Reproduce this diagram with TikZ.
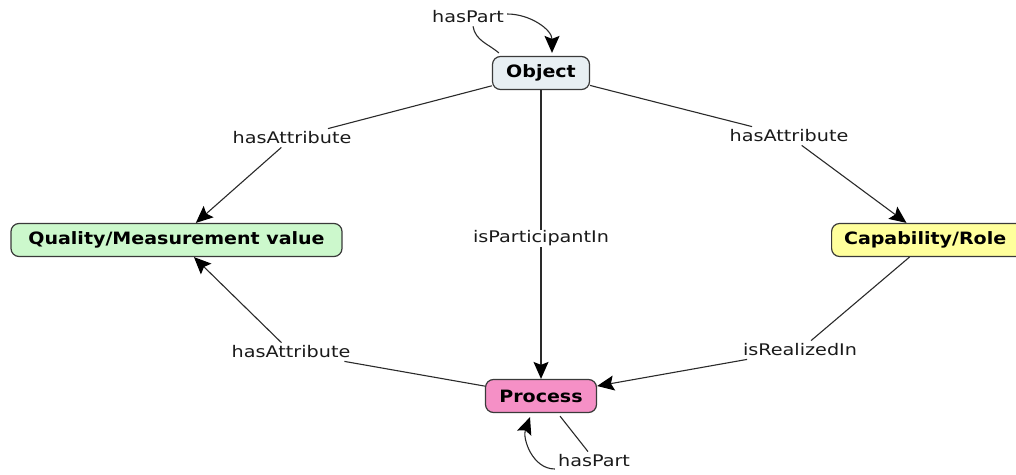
\documentclass[tikz,border=0pt]{standalone}
\usepackage{fontspec}
\setmainfont{DejaVu Sans}
\newfontfamily\linkfont{DejaVu Sans}[FakeStretch=1.2]
\newfontfamily\conceptfont{DejaVu Sans}[FakeStretch=1.12]
\usetikzlibrary{arrows.meta}

\definecolor{objfill}{HTML}{E8EFF3}
\definecolor{qualfill}{HTML}{CCF8CC}
\definecolor{capfill}{HTML}{FFFF9C}
\definecolor{procfill}{HTML}{F590C6}
\definecolor{edgegray}{HTML}{2A2A2A}
\definecolor{boxline}{HTML}{3A3A3A}
\definecolor{ink}{HTML}{1A1A1A}

\tikzset{
  concept/.style={draw=boxline, line width=1.2pt, rounded corners=8pt,
    minimum height=33pt, inner xsep=12pt,
    font=\conceptfont\bfseries\fontsize{17}{20}\selectfont, text=black},
  linklabel/.style={font=\linkfont\fontsize{16}{19}\selectfont, text=ink, inner sep=3pt},
  link/.style={draw=edgegray, line width=1.1pt},
  arrowlink/.style={link, -{Stealth[length=17pt,width=15pt,inset=3pt,fill=black,color=black]}},
}

\begin{document}
\begin{tikzpicture}[x=1pt,y=1pt]
\useasboundingbox (0,0) rectangle (1016,474);

% concepts
\node[concept, fill=objfill, minimum width=97pt] (obj) at (541,401) {Object};
\node[concept, fill=qualfill, minimum width=331pt] (qual) at (176.5,234) {Quality/Measurement value};
\node[concept, fill=capfill, minimum width=196pt, anchor=west] (cap) at (831,234) {\hspace*{-9pt}Capability/Role};
\node[concept, fill=procfill, minimum width=111pt] (proc) at (541,78) {Process};

% linking phrases
\node[linklabel] (hp1) at (468,457) {hasPart};
\node[linklabel] (la1) at (292,336) {hasAttribute};
\node[linklabel] (la2) at (789,338) {hasAttribute};
\node[linklabel] (la3) at (291,122) {hasAttribute};
\node[linklabel] (lr) at (800,124) {isRealizedIn};
\node[linklabel] (hp2) at (594,13) {hasPart};

% Object -> Process
\draw[arrowlink] (obj) -- node[linklabel, fill=white, inner ysep=1pt, yshift=-4pt] (lp) {isParticipantIn} (proc);

% attribute links
\draw[link] (obj) -- (la1);
\draw[arrowlink] (la1) -- (qual);
\draw[link] (obj) -- (la2);
\draw[arrowlink] (la2) -- (cap);
\draw[link] (proc) -- (la3);
\draw[arrowlink] (la3) -- (qual);

% realization
\draw[link] (cap) -- (lr);
\draw[arrowlink] (lr) -- (proc);

% part-of loops
\draw[link] ([xshift=5pt]hp1.south) to[out=-80,in=140] ([shift={(7pt,3pt)}]obj.north west);
\draw[arrowlink] ([yshift=3pt]hp1.east) to[out=0,in=90] ([shift={(11pt,3pt)}]obj.north);
\draw[link] ([shift={(19pt,-3pt)}]proc.south) -- ([xshift=-6pt]hp2.north);
\draw[arrowlink] ([yshift=-8pt]hp2.west) to[out=180,in=-110] ([shift={(-11pt,-4pt)}]proc.south);
\end{tikzpicture}
\end{document}
